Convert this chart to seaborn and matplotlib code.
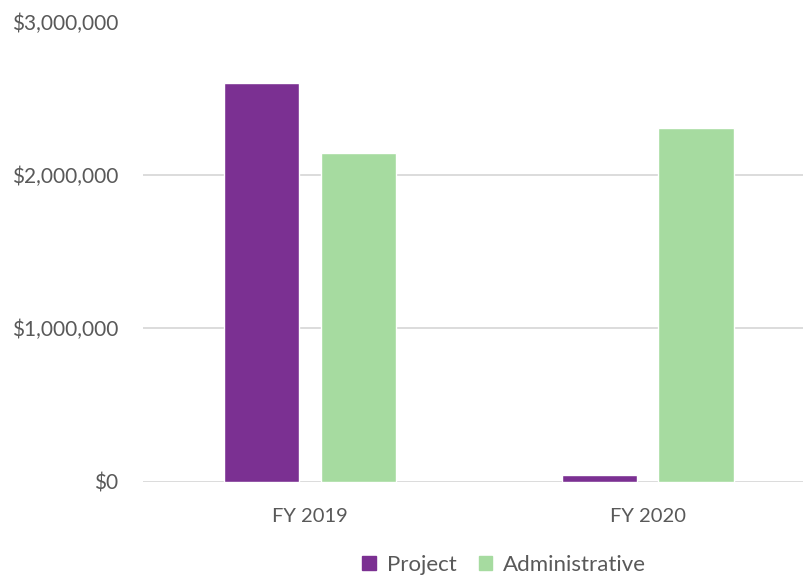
import pandas as pd
import numpy as np
import matplotlib
matplotlib.use("Agg")
import matplotlib.pyplot as plt
import seaborn as sns
from matplotlib.ticker import FuncFormatter

# dados
anos = ["FY 2019", "FY 2020"]
projeto = [2600000, 43000]
administrativo = [2140000, 2308000]
series = ["Project", "Administrative"]
cores = ["#7B3092", "#A6DBA0"]

df = pd.DataFrame({
    "ano": anos * 2,
    "tipo": [series[0]] * len(anos) + [series[1]] * len(anos),
    "valor": projeto + administrativo,
})

sns.set_style("white")
plt.rcParams['font.family'] = ['Lato', 'DejaVu Sans']
cinza = "#595959"

fig = plt.figure(figsize=(8.04, 5.75), dpi=100)
ax = fig.add_axes([143 / 804, 93.3 / 575, 1 - 143 / 804, 460.2 / 575])

sns.barplot(data=df, x="ano", y="valor", hue="tipo", hue_order=series,
            palette=cores, width=0.57, gap=0.22, ax=ax, legend=False,
            saturation=1, errorbar=None)

ax.set_xlim(-0.494, 1.462)
ax.set_ylim(0, 3000000)
ax.set_yticks([0, 1000000, 2000000, 3000000])
ax.yaxis.set_major_formatter(FuncFormatter(lambda v, p: f"${v:,.0f}"))
ax.grid(axis="y", color="#D9D9D9", linewidth=1.3)
ax.set_axisbelow(True)
for s in ax.spines.values():
    s.set_visible(False)
ax.tick_params(axis="y", length=0, pad=18, labelsize=15, labelcolor=cinza)
ax.tick_params(axis="x", length=0, pad=19, labelsize=14.5, labelcolor=cinza)
ax.set_xlabel("")
ax.set_ylabel("")

handles = [plt.Rectangle((0, 0), 1, 1, color=c) for c in cores]
fig.legend(handles, series, loc="center", bbox_to_anchor=(0.627, 0.018),
           ncol=2, frameon=False, fontsize=16, labelcolor=cinza,
           handlelength=0.6, handleheight=0.6, handletextpad=0.5,
           columnspacing=1.0)

fig.savefig("out.png", dpi=100)
